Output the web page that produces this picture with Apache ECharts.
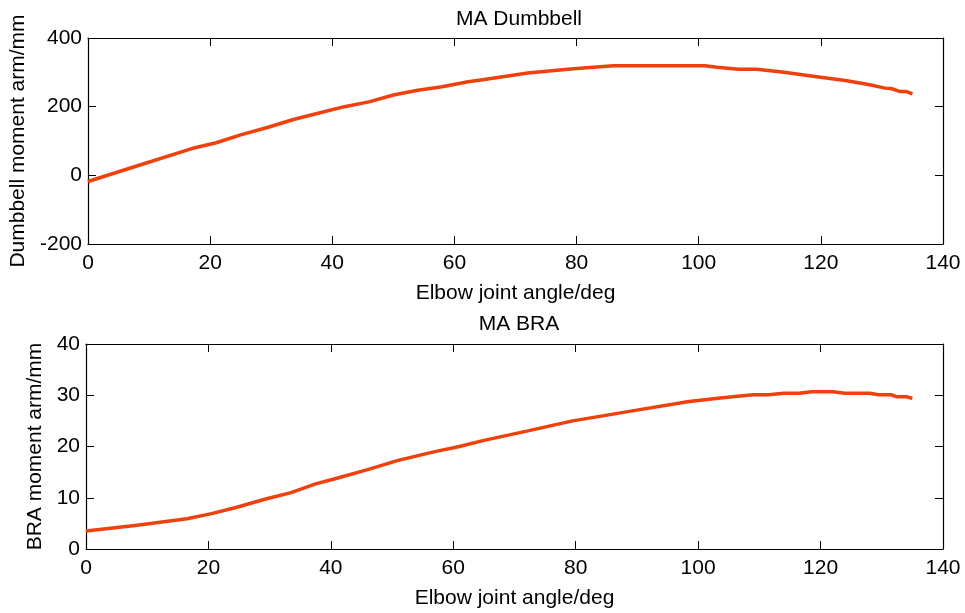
<!DOCTYPE html>
<html>
<head>
<meta charset="utf-8">
<script src="https://cdn.jsdelivr.net/npm/echarts@6/dist/echarts.min.js"></script>
<style>
  html, body { margin: 0; padding: 0; background: #fff; }
  #chart { width: 965px; height: 613px; }
</style>
</head>
<body>
<div id="chart"></div>
<script>
// Moment arm of the dumbbell load vs elbow angle
const dumbbellAngle = [0, 8.5, 17, 21, 25, 29.5, 33.5, 37.5, 42, 46, 50, 54, 58, 62, 66, 72, 79, 86, 101, 103, 106.5, 109.5, 114, 119, 124, 128, 130.5, 131.5, 133, 134, 135];
const dumbbellArm = [-18, 30, 78, 95, 118, 140, 162, 180, 200, 214, 234, 248, 258, 272, 282, 298, 310, 319, 319, 315, 309, 309, 300, 288, 276, 264, 254, 253, 244, 244, 237];

// Moment arm of the brachioradialis (BRA) vs elbow angle
const braAngle = [0, 8, 16.5, 20.5, 24.5, 29.5, 33.5, 37.5, 41, 46, 51, 57, 61, 65, 72, 79.5, 89, 98.5, 104, 109, 111.5, 114, 116.5, 118.5, 122, 124, 128, 129.5, 131.5, 132.5, 134, 135];
const braArm = [3.5, 4.6, 5.9, 6.9, 8.1, 9.8, 11.0, 12.7, 13.8, 15.5, 17.3, 19.0, 20.0, 21.2, 23.0, 25.0, 26.9, 28.8, 29.5, 30.1, 30.1, 30.4, 30.4, 30.7, 30.7, 30.4, 30.4, 30.1, 30.1, 29.7, 29.7, 29.4];

const titles = ['MA Dumbbell', 'MA BRA'];
const xName = 'Elbow joint angle/deg';
const yNames = ['Dumbbell moment arm/mm', 'BRA moment arm/mm'];
const xTicks = { min: 0, max: 140, interval: 20 };
const yTicksTop = { min: -200, max: 400, interval: 200 };
const yTicksBottom = { min: 0, max: 40, interval: 10 };

const FONT = 'Liberation Sans, Arial, sans-serif';
const FONT_SIZE = 21;
const LINE_COLOR = '#F0400C';

const pairs = (xs, ys) => xs.map((x, i) => [x, ys[i]]);

const axisLine = { show: true, onZero: false, lineStyle: { color: '#000', width: 1.2 } };
const innerTick = { show: true, inside: true, length: 8, lineStyle: { color: '#000', width: 1 } };
const labelStyle = { color: '#000', fontSize: FONT_SIZE, fontFamily: FONT };
const nameStyle = { color: '#000', fontSize: FONT_SIZE, fontFamily: FONT };

function xAxes(gridIndex) {
  return [
    {
      type: 'value', gridIndex, position: 'bottom', ...xTicks,
      name: xName, nameLocation: 'middle', nameGap: 39, nameTextStyle: nameStyle,
      axisLine, axisTick: innerTick, axisLabel: { ...labelStyle, margin: 9 },
      splitLine: { show: false }
    },
    {
      type: 'value', gridIndex, position: 'top', ...xTicks,
      axisLine, axisTick: innerTick, axisLabel: { show: false },
      splitLine: { show: false }
    }
  ];
}

function yAxes(gridIndex, ticks, name, gap) {
  return [
    {
      type: 'value', gridIndex, position: 'left', ...ticks,
      name, nameLocation: 'middle', nameGap: gap, nameTextStyle: nameStyle,
      axisLine, axisTick: innerTick, axisLabel: { ...labelStyle, margin: 6 },
      splitLine: { show: false }
    },
    {
      type: 'value', gridIndex, position: 'right', ...ticks,
      axisLine, axisTick: innerTick, axisLabel: { show: false },
      splitLine: { show: false }
    }
  ];
}

const chart = echarts.init(document.getElementById('chart'), null, { renderer: 'canvas' });

chart.setOption({
  backgroundColor: '#fff',
  animation: false,
  title: [
    { text: titles[0], left: 514, top: 4, textAlign: 'center',
      textStyle: { color: '#000', fontSize: FONT_SIZE, fontWeight: 'normal', fontFamily: FONT } },
    { text: titles[1], left: 514, top: 309, textAlign: 'center',
      textStyle: { color: '#000', fontSize: FONT_SIZE, fontWeight: 'normal', fontFamily: FONT } }
  ],
  grid: [
    { left: 86, right: 22, top: 38, height: 206 },
    { left: 86, right: 22, top: 344, height: 205 }
  ],
  xAxis: [...xAxes(0), ...xAxes(1)],
  yAxis: [
    ...yAxes(0, yTicksTop, yNames[0], 59),
    ...yAxes(1, yTicksBottom, yNames[1], 40)
  ],
  series: [
    {
      type: 'line', xAxisIndex: 0, yAxisIndex: 0,
      data: pairs(dumbbellAngle, dumbbellArm),
      showSymbol: false, symbol: 'none',
      lineStyle: { color: LINE_COLOR, width: 3.5 }
    },
    {
      type: 'line', xAxisIndex: 2, yAxisIndex: 2,
      data: pairs(braAngle, braArm),
      showSymbol: false, symbol: 'none',
      lineStyle: { color: LINE_COLOR, width: 3.5 }
    }
  ]
});
</script>
</body>
</html>
